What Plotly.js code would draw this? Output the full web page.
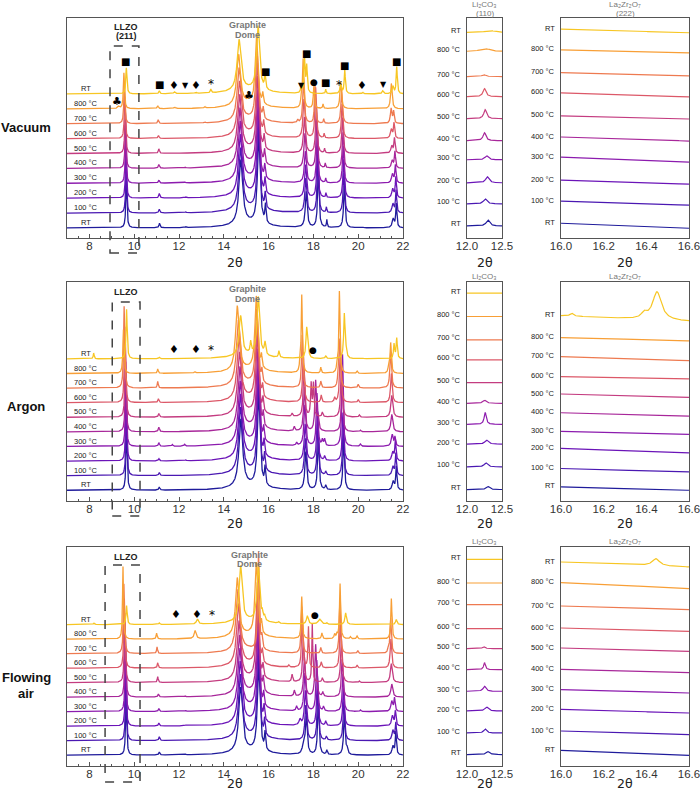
<!DOCTYPE html>
<html><head><meta charset="utf-8">
<script src="https://cdn.plot.ly/plotly-3.0.1.min.js"></script>
<style>html,body{margin:0;padding:0;background:#fff}#chart{width:700px;height:792px}</style>
</head><body><div id="chart"></div>
<script>
// ---------- labels & colours ----------
const temps = ['RT','100 °C','200 °C','300 °C','400 °C','500 °C','600 °C','700 °C','800 °C','RT'];
const lineColors = ['#1f1b9b','#4a18b2','#6b14b8','#8c1bae','#a8279a','#c43c80','#dc5868','#ee7a50','#f89f36','#f7c623'];
const mainTicks = [8,10,12,14,16,18,20,22];
const liTicks = [12.0,12.5];
const laTicks = [16.0,16.2,16.4,16.6];

// ---------- main panels: peaks [2θ, height, hwhm] read per scan ----------
const dome = [[15.1,0.3,0.8]];
const vac0 = [[9.65,3.2,.03],[11.13,.3,.03],[12.3,.05,.03],[14.76,4.3,.1],[15.56,5.9,.07],[15.86,1.2,.03],[17.68,2.4,.05],[18.22,3.8,.04],[18.6,.5,.02],[19.38,2.8,.04],[20.2,.05,.03],[21.56,.6,.05],[21.7,1.6,.03]];
const vac1 = [[9.64,3.0,.03],[11.12,.25,.03],[12.3,.05,.03],[14.75,4.1,.1],[15.55,5.6,.07],[15.85,1.0,.03],[17.66,2.3,.05],[18.2,3.6,.04],[18.58,.35,.02],[19.36,2.7,.04],[21.55,.6,.05],[21.69,1.5,.03]];
const vac2 = [[9.63,3.0,.03],[11.12,.3,.03],[12.3,.05,.03],[14.74,4.0,.1],[15.54,5.4,.07],[15.84,1.0,.03],[17.65,2.2,.05],[18.18,3.4,.04],[18.56,.3,.02],[19.35,2.6,.04],[21.54,.6,.05],[21.68,1.4,.03]];
const vac3 = [[9.62,3.0,.03],[11.1,.2,.03],[12.28,.05,.03],[14.73,3.9,.1],[15.53,5.2,.07],[15.83,.9,.03],[17.64,2.1,.05],[18.17,3.3,.04],[18.55,.3,.02],[19.33,2.5,.04],[21.53,.6,.05],[21.66,1.2,.03]];
const vac4 = [[9.61,2.9,.03],[11.1,.25,.03],[12.28,.05,.03],[14.72,3.8,.1],[15.52,5.0,.07],[15.82,.9,.03],[17.62,2.3,.05],[18.15,3.2,.04],[18.53,.3,.02],[19.32,2.4,.04],[21.52,.5,.05],[21.64,1.1,.03]];
const vac5 = [[9.6,2.9,.03],[11.1,.3,.03],[12.27,.05,.03],[14.71,3.7,.1],[15.51,4.9,.07],[15.8,.9,.03],[17.6,2.4,.05],[18.13,3.1,.04],[18.5,.3,.02],[19.3,2.4,.04],[21.5,.5,.05],[21.62,1.0,.03]];
const vac6 = [[9.58,2.8,.03],[11.08,.2,.03],[14.7,3.6,.1],[15.5,4.8,.07],[15.78,.8,.03],[17.58,2.6,.05],[18.1,3.4,.04],[18.48,.3,.02],[19.28,2.3,.04],[21.48,.6,.05],[21.6,1.0,.03]];
const vac7 = [[9.56,2.6,.03],[11.07,.25,.03],[13.15,.08,.03],[14.68,3.5,.1],[15.48,4.6,.07],[15.76,.7,.03],[17.3,.2,.03],[17.56,3.0,.04],[18.07,2.6,.03],[18.46,.3,.02],[19.26,2.2,.04],[21.47,1.0,.04],[21.58,.8,.03]];
const vac8 = [[9.3,.15,.05],[9.54,2.4,.03],[11.05,.2,.03],[11.8,.08,.05],[13.15,.1,.03],[14.66,3.4,.1],[15.1,.15,.05],[15.46,4.5,.07],[15.74,.7,.03],[17.45,.4,.03],[17.54,3.3,.035],[18.02,1.5,.03],[18.43,.3,.02],[19.22,1.8,.04],[21.48,1.7,.04]];
const vac9 = [[9.65,1.75,.03],[11.12,.2,.03],[11.8,.12,.04],[12.3,.05,.03],[12.75,.08,.04],[13.42,.25,.03],[14.68,3.4,.1],[15.53,4.3,.08],[15.84,1.0,.03],[17.45,.4,.03],[17.6,2.4,.03],[17.7,1.8,.03],[18.55,.3,.02],[19.22,.6,.04],[19.4,1.6,.03],[20.2,.1,.03],[21.1,.2,.04],[21.55,.5,.04],[21.72,1.8,.03]];

const ar0 = [[9.66,4.5,.03],[11.12,.2,.03],[14.76,4.6,.1],[15.56,6.2,.07],[15.84,1.2,.03],[17.66,2.6,.05],[18.22,3.6,.04],[18.55,.3,.03],[19.35,3.4,.04],[21.56,.6,.05],[21.7,1.6,.03]];
const ar1 = [[9.65,4.4,.03],[11.12,.2,.03],[14.75,4.4,.1],[15.55,6.0,.07],[15.82,1.1,.03],[17.64,2.5,.05],[18.2,3.5,.04],[18.55,.25,.03],[19.33,3.3,.04],[21.55,.6,.05],[21.68,1.5,.03]];
const ar2 = [[9.64,4.5,.03],[11.1,.15,.03],[12.3,.05,.03],[14.74,4.3,.1],[15.54,5.8,.07],[15.8,1.0,.03],[17.63,2.5,.05],[18.18,3.4,.04],[18.5,.3,.03],[19.32,3.3,.04],[21.54,.6,.05],[21.66,1.4,.03]];
const ar3 = [[9.63,4.6,.03],[11.1,.25,.03],[11.7,.12,.03],[12.25,.12,.03],[14.73,4.2,.1],[15.53,5.6,.07],[15.78,.9,.03],[17.25,.2,.03],[17.62,2.8,.05],[18.16,3.6,.04],[18.4,.4,.03],[18.5,.45,.03],[19.3,6.3,.035],[20.1,.15,.03],[21.52,.8,.05],[21.64,.6,.03]];
const ar4 = [[9.62,4.8,.03],[11.1,.3,.03],[14.72,4.2,.1],[15.52,5.4,.07],[15.76,.9,.03],[17.15,.3,.03],[17.6,3.0,.045],[18.1,3.4,.04],[18.2,.8,.04],[19.28,3.4,.04],[20.1,.1,.03],[21.5,1.2,.05]];
const ar5 = [[9.61,5.0,.03],[11.1,.25,.03],[14.7,4.2,.1],[15.5,5.3,.07],[15.75,.9,.03],[17.05,.2,.03],[17.58,3.4,.04],[17.9,2.2,.03],[18.0,2.2,.03],[18.4,.3,.03],[19.25,3.5,.04],[20.05,.15,.03],[21.5,1.5,.05]];
const ar6 = [[9.58,5.2,.03],[11.08,.25,.03],[14.68,4.3,.1],[15.48,5.2,.07],[15.73,.8,.03],[17.55,3.4,.04],[18.35,.5,.03],[18.95,.3,.03],[19.2,3.5,.04],[20.0,.2,.03],[21.48,2.0,.04]];
const ar7 = [[9.55,5.6,.03],[11.05,.45,.025],[14.65,4.4,.1],[15.47,5.1,.07],[15.7,.8,.03],[17.5,3.6,.035],[18.33,.45,.03],[19.1,.7,.03],[19.18,3.3,.035],[20.0,.25,.03],[21.45,2.5,.04]];
const ar8 = [[9.52,3.0,.03],[11.05,.3,.025],[12.7,.1,.03],[14.6,4.4,.09],[15.45,5.0,.07],[15.68,.8,.03],[17.4,.5,.03],[17.48,5.3,.03],[18.33,.4,.025],[19.05,.4,.03],[19.16,5.6,.03],[19.95,.15,.03],[21.35,.3,.03],[21.45,2.1,.035]];
const ar9 = [[8.19,.4,.025],[9.66,3.4,.03],[11.12,.1,.03],[14.75,2.7,.08],[15.2,.75,.03],[15.54,4.0,.07],[15.84,.85,.04],[16.46,.45,.03],[17.7,2.0,.04],[17.76,.8,.03],[18.55,.2,.03],[19.38,3.0,.035],[19.45,.5,.04],[20.2,.05,.03],[21.6,1.0,.03],[21.72,1.4,.03]];

const air0 = [[9.64,4.0,.03],[11.12,.2,.03],[12.3,.05,.03],[14.75,4.4,.1],[15.56,5.8,.07],[15.84,1.2,.03],[17.55,.5,.06],[17.68,2.6,.05],[18.22,3.6,.04],[18.6,.3,.03],[19.38,2.8,.04],[19.5,.4,.04],[21.55,.6,.05],[21.68,1.6,.03]];
const air1 = [[9.63,4.2,.03],[11.12,.25,.03],[14.74,4.3,.1],[15.55,5.7,.07],[15.82,1.1,.03],[17.66,2.4,.05],[18.2,3.5,.04],[18.58,.25,.03],[19.36,2.7,.04],[21.55,.7,.05],[21.68,1.2,.03]];
const air2 = [[9.62,4.3,.03],[11.1,.2,.03],[12.3,.05,.03],[14.73,4.2,.1],[15.54,5.6,.07],[15.8,1.0,.03],[17.4,.4,.05],[17.64,2.4,.05],[18.18,3.4,.04],[18.55,.3,.03],[19.34,2.6,.04],[21.53,.7,.05],[21.66,1.0,.03]];
const air3 = [[9.61,4.5,.03],[11.1,.2,.03],[12.3,.05,.03],[13.45,.05,.03],[14.72,4.1,.1],[15.53,5.5,.07],[15.78,.9,.03],[17.25,.3,.03],[17.62,2.6,.05],[18.15,3.5,.04],[18.45,.3,.03],[19.32,2.6,.04],[20.1,.1,.03],[21.5,.7,.05],[21.62,.9,.03]];
const air4 = [[9.6,4.6,.03],[11.08,.2,.03],[12.28,.05,.03],[14.7,4.0,.1],[15.52,5.4,.07],[15.76,.9,.03],[17.15,.4,.03],[17.6,2.7,.045],[18.1,3.6,.04],[18.42,.3,.03],[19.28,2.6,.04],[21.5,.9,.05]];
const air5 = [[9.58,4.8,.03],[11.05,.4,.025],[14.68,4.0,.1],[15.5,5.4,.07],[15.75,.8,.03],[17.05,.5,.03],[17.55,3.0,.04],[17.95,4.0,.025],[18.4,.3,.03],[19.25,3.0,.04],[20.05,.1,.03],[21.48,1.3,.05]];
const air6 = [[9.56,4.8,.03],[11.05,.35,.025],[14.66,4.2,.1],[15.5,5.6,.06],[15.72,.8,.03],[16.9,.15,.03],[17.5,3.4,.035],[17.78,2.8,.025],[18.35,.4,.03],[19.2,3.3,.035],[19.95,.2,.03],[21.46,2.0,.04]];
const air7 = [[9.54,4.8,.03],[11.02,.45,.025],[14.63,4.2,.1],[15.55,6.7,.04],[15.7,.8,.03],[17.48,3.2,.035],[18.33,.4,.03],[19.18,3.5,.035],[19.98,.2,.03],[21.35,.4,.03],[21.45,2.4,.035]];
const air8 = [[9.5,5.0,.025],[11.0,.4,.025],[12.72,.55,.05],[14.6,4.0,.09],[15.45,5.0,.07],[15.68,.8,.03],[17.48,2.9,.03],[18.38,.4,.03],[18.95,.3,.03],[19.05,.3,.03],[19.19,3.8,.03],[19.65,.15,.03],[19.95,.2,.03],[21.48,2.8,.03]];
const air9 = [[8.2,.1,.03],[9.66,1.3,.03],[11.12,.1,.03],[12.82,.35,.05],[14.75,3.8,.08],[15.54,3.8,.07],[15.72,.4,.03],[15.82,.3,.03],[16.45,.1,.03],[17.73,.57,.05],[18.28,.35,.08],[18.6,.1,.03],[19.44,.8,.04],[21.7,.35,.04]];

// phase markers
const vacMarkX = [9.59,11.15,11.78,12.27,12.76,13.43,9.23,15.13,15.84,17.45,17.67,18.03,18.56,19.14,19.41,20.17,21.15,21.73];
const vacMarkY = [11.2,9.66,9.6,9.6,9.6,9.66,8.5,8.9,10.5,9.6,11.7,9.8,9.8,9.6,10.9,9.6,9.66,11.2];
const vacMarkS = ['■','■','♦','▼','♦','*','♣','♣','■','▼','■','●','■','*','■','♦','▼','■'];
const arMarkX = [11.79,12.76,13.43,18.0];
const arMarkY = [9.64,9.64,9.64,9.64];
const arMarkS = ['♦','♦','*','●'];
const airMarkX = [11.87,12.82,13.49,18.07];
const airMarkY = [9.69,9.69,9.69,9.69];
const airMarkS = ['♦','♦','*','●'];

// ---------- small panels ----------
const liVacBase = [12,34,55,78,97,119,141,161,186,205];
const liVacPos = [12.30,12.26,12.29,12.28,12.25,12.26,12.25,12.24,12.26,12.33];
const liVacH = [6,5,6,4,8,9,8,2,3,2];
const liVacW = [.03,.03,.03,.03,.025,.025,.025,.03,.08,.08];
const laVacL = [14.7,36.7,57.7,80.7,100.7,121.7,144.7,165,187.7,208.4];
const laVacR = [9.7,32.7,53.7,75.7,96.7,118.7,140.7,161.7,184.7,204.7];

const liArBase = [11.4,34,56.7,76.4,97.4,118,140.7,160.7,184,207.4];
const liArPos = [12.30,12.27,12.28,12.26,12.25,12.25,12.25,12.25,12.25,12.25];
const liArH = [3,4,4,12,3,0,0,0,0,0];
const liArW = [.03,.03,.03,.018,.03,.03,.03,.03,.03,.03];
const laArL = [14,32.4,52.4,69.4,88,106.7,124,144,163,184.7];
const laArR = [10.7,29,48,66.4,84.7,103.4,121.7,140,159.7,179];
const laArTopPeaks = [[16.45,28,.025],[16.39,5,.015],[16.05,3,.01]];

const liAirBase = [11.4,33,55,74.7,96.4,117.4,137.4,161.4,183,206.7];
const liAirPos = [12.30,12.26,12.28,12.25,12.25,12.24,12.25,12.25,12.25,12.25];
const liAirH = [3,4,4,5,7,2,0,0,0,0];
const liAirW = [.03,.025,.03,.025,.015,.02,.03,.03,.03,.03];
const laAirL = [15.7,35,56.7,76.4,96.7,118,138,160,183.4,204];
const laAirR = [10.7,31.4,53,73,93.4,114.7,134.7,156.4,177.4,199];
const laAirTopPeaks = [[16.445,7,.02]];

// ---------- build ----------
const W = 700, H = 792;
const px = v => v / W;
const py = v => 1 - v / H;

function lor(peaks, x) {
  let s = 0;
  for (const [p, h, w] of peaks) s += h * w * w / ((x - p) * (x - p) + w * w);
  return s;
}
function grid(a, b, n) { const g = []; for (let i = 0; i <= n; i++) g.push(a + (b - a) * i / n); return g; }

const traces = [];
const annotations = [];
const shapes = [];
const layout = {
  width: W, height: H, margin: {l:0, r:0, t:0, b:0},
  paper_bgcolor: '#fff', plot_bgcolor: '#fff', showlegend: false, hovermode: false,
  font: {family: 'Liberation Sans, Arial, sans-serif', color: '#222'},
  annotations, shapes
};
function label(x, y, text, font, xanchor) {
  annotations.push({xref: 'paper', yref: 'paper', x: px(x), y: py(y), text: text, showarrow: false,
    xanchor: xanchor || 'center', yanchor: 'middle', font: font});
}

const secY = [[18,238],[282,501],[547,766]];
const xTitleY = [262,523,783];
const mainYR = [[-0.67,14.1],[-0.73,14.27],[-0.74,14.35]];
const smallYR = [219.4, 218.4, 219];
const mainSets = [[vac0,vac1,vac2,vac3,vac4,vac5,vac6,vac7,vac8,vac9],[ar0,ar1,ar2,ar3,ar4,ar5,ar6,ar7,ar8,ar9],[air0,air1,air2,air3,air4,air5,air6,air7,air8,air9]];
const marks = [[vacMarkX,vacMarkY,vacMarkS],[arMarkX,arMarkY,arMarkS],[airMarkX,airMarkY,airMarkS]];
const liSets = [[liVacBase,liVacPos,liVacH,liVacW],[liArBase,liArPos,liArH,liArW],[liAirBase,liAirPos,liAirH,liAirW]];
const laSets = [[laVacL,laVacR,[]],[laArL,laArR,laArTopPeaks],[laAirL,laAirR,laAirTopPeaks]];
const boxes = [[8.92,10.21,46,253],[9.02,10.26,302,516],[8.70,10.26,565,782]];
const symSize = {'■':10,'♦':11,'▼':8,'*':12,'●':9,'♣':11};

const tickFont = {family: 'Liberation Sans, Arial, sans-serif', size: 11.5, color: '#333'};
const frame = {showline: true, mirror: true, linecolor: '#555', linewidth: 1.3, showgrid: false, zeroline: false, ticklabeloverflow: 'allow'};
const mainX = grid(7, 22, 3000);
const panelCenters = [235, 484.5, 625];
const boldFont = (size, color) => ({size: size, color: color, weight: 'bold'});
const grayFont = {size: 8, color: '#777'};

for (let s = 0; s < 3; s++) {
  const yd = [py(secY[s][1]), py(secY[s][0])];
  const base = s * 3;
  const ids = [base + 1, base + 2, base + 3];
  const axn = i => (i === 1 ? '' : String(i));
  layout['xaxis' + axn(ids[0])] = Object.assign({}, frame, {
    domain: [px(67), px(403)], anchor: 'y' + axn(ids[0]), range: [7, 22],
    tickmode: 'array', tickvals: mainTicks, ticktext: mainTicks.map(String), ticks: 'inside', ticklen: 4, tickcolor: '#555',
    minor: {dtick: 0.5, tick0: 0, ticks: 'inside', ticklen: 2.5, tickcolor: '#555'},
    tickfont: tickFont, ticklabelstandoff: -3
  });
  layout['yaxis' + axn(ids[0])] = Object.assign({}, frame, {domain: yd, anchor: 'x' + axn(ids[0]), range: mainYR[s], showticklabels: false, ticks: ''});
  layout['xaxis' + axn(ids[1])] = Object.assign({}, frame, {
    domain: [px(467), px(502)], anchor: 'y' + axn(ids[1]), range: [12.0, 12.5],
    tickmode: 'array', tickvals: liTicks, ticktext: liTicks.map(v => v.toFixed(1)), ticks: '', tickfont: tickFont, ticklabelstandoff: -3
  });
  layout['yaxis' + axn(ids[1])] = Object.assign({}, frame, {domain: yd, anchor: 'x' + axn(ids[1]), range: [0, smallYR[s]], showticklabels: false, ticks: ''});
  layout['xaxis' + axn(ids[2])] = Object.assign({}, frame, {
    domain: [px(561), px(689)], anchor: 'y' + axn(ids[2]), range: [15.9999, 16.6001],
    tickmode: 'array', tickvals: laTicks, ticktext: laTicks.map(v => v.toFixed(1)), ticks: '', tickfont: tickFont, ticklabelstandoff: -3
  });
  layout['yaxis' + axn(ids[2])] = Object.assign({}, frame, {domain: yd, anchor: 'x' + axn(ids[2]), range: [0, smallYR[s]], showticklabels: false, ticks: ''});

  const xm = 'x' + axn(ids[0]), ym = 'y' + axn(ids[0]);
  const xl = 'x' + axn(ids[1]), yl = 'y' + axn(ids[1]);
  const xz = 'x' + axn(ids[2]), yz = 'y' + axn(ids[2]);

  mainSets[s].forEach((pk, i) => {
    traces.push({type: 'scatter', mode: 'lines', x: mainX, y: mainX.map(x => i + lor(dome, x) + lor(pk, x)),
      xaxis: xm, yaxis: ym, line: {color: lineColors[i], width: 1.3}});
    annotations.push({xref: xm, yref: ym, x: 7.87, y: i, xanchor: 'center', yanchor: 'bottom', yshift: -1, text: temps[i],
      showarrow: false, font: {size: 7.5, color: '#222'}});
  });
  const [mx, my, ms] = marks[s];
  mx.forEach((x, k) => annotations.push({xref: xm, yref: ym, x: x, y: my[k], text: ms[k], showarrow: false,
    xanchor: 'center', yanchor: 'middle', font: {family: 'DejaVu Sans, sans-serif', size: symSize[ms[k]], color: '#000'}}));
  const [lb, lp, lh, lw] = liSets[s];
  const lx = grid(12.0, 12.5, 200);
  lb.forEach((b, i) => {
    traces.push({type: 'scatter', mode: 'lines', x: lx, y: lx.map(x => b + lor([[lp[i], lh[i], lw[i]]], x)),
      xaxis: xl, yaxis: yl, line: {color: lineColors[i], width: 1.2}});
    annotations.push({xref: 'paper', yref: yl, x: px(463), y: b, xanchor: 'right', yanchor: 'middle', yshift: 2,
      text: temps[i], showarrow: false, font: {size: 7.5, color: '#222'}});
  });
  const [zl, zr, zp] = laSets[s];
  const zx = grid(16.0, 16.6, 240);
  zl.forEach((l, i) => {
    const pk = i === 9 ? zp : [];
    traces.push({type: 'scatter', mode: 'lines', x: zx, y: zx.map(x => l + (zr[i] - l) * (x - 16) / 0.6 + lor(pk, x)),
      xaxis: xz, yaxis: yz, line: {color: lineColors[i], width: 1.2}});
    annotations.push({xref: 'paper', yref: yz, x: px(557), y: l, xanchor: 'right', yanchor: 'middle', yshift: 1,
      text: temps[i], showarrow: false, font: {size: 7.5, color: '#222'}});
  });
  panelCenters.forEach(cx => label(cx, xTitleY[s], '2θ', {family: 'DejaVu Sans, sans-serif', size: 12.5, color: '#222'}));
  const bx = boxes[s];
  shapes.push({type: 'rect', xref: xm, yref: 'paper', x0: bx[0], x1: bx[1], y0: py(bx[3]), y1: py(bx[2]),
    line: {color: '#444', width: 1.5, dash: 'dash'}, fillcolor: 'rgba(0,0,0,0)', layer: 'above'});
}

// section names, panel headers
label(26, 127, 'Vacuum', boldFont(13, '#111'));
label(26, 407, 'Argon', boldFont(13, '#111'));
label(26, 677, 'Flowing', boldFont(13, '#111'));
label(26, 693, 'air', boldFont(13, '#111'));
label(126, 27, 'LLZO', boldFont(9, '#222'));
label(126, 36.5, '(211)', boldFont(9, '#222'));
label(126, 292, 'LLZO', boldFont(9, '#222'));
label(126, 557, 'LLZO', boldFont(9, '#222'));
label(248, 25, 'Graphite', boldFont(9, '#777'));
label(248, 34.5, 'Dome', boldFont(9, '#777'));
label(248, 289.5, 'Graphite', boldFont(9, '#777'));
label(248, 299, 'Dome', boldFont(9, '#777'));
label(249, 554.5, 'Graphite', boldFont(9, '#777'));
label(249, 563.5, 'Dome', boldFont(9, '#777'));
label(484.5, 5, 'Li₂CO₃', grayFont);
label(484.5, 13.5, '(110)', grayFont);
label(625, 5, 'La₂Zr₂O₇', grayFont);
label(625, 13.5, '(222)', grayFont);
label(484.5, 276, 'Li₂CO₃', grayFont);
label(625, 276, 'La₂Zr₂O₇', grayFont);
label(484.5, 541, 'Li₂CO₃', grayFont);
label(625, 541, 'La₂Zr₂O₇', grayFont);

Plotly.newPlot('chart', traces, layout, {staticPlot: true, displayModeBar: false});
</script>
</body></html>
